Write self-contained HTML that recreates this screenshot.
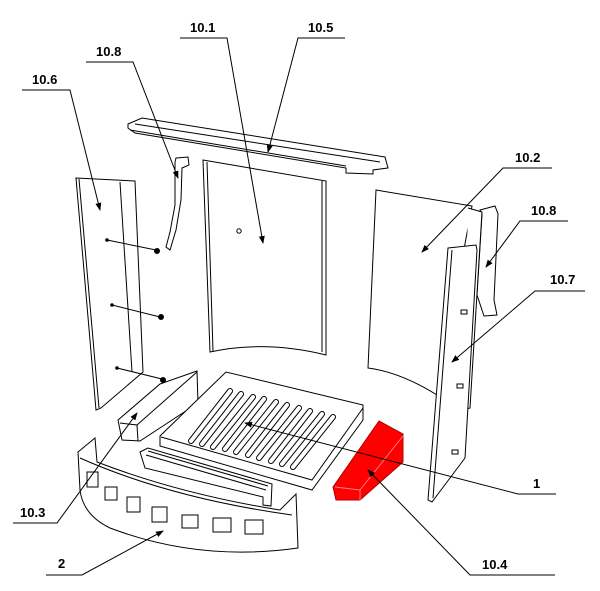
<!DOCTYPE html>
<html><head><meta charset="utf-8"><style>
html,body{margin:0;padding:0;background:#fff;}
svg{display:block}
text{font-family:"Liberation Sans",sans-serif;font-weight:bold;font-size:13px;fill:#000}
</style></head><body>
<svg width="600" height="591" viewBox="0 0 600 591" xmlns="http://www.w3.org/2000/svg">
<defs><marker id="a" markerWidth="8" markerHeight="8" refX="7" refY="3" orient="auto" markerUnits="userSpaceOnUse"><path d="M0,0 L8,3 L0,6 Z" fill="#000"/></marker></defs>
<g fill="none" stroke="#000" stroke-width="1">
<!-- top beam 10.5 -->
<path d="M128,124 L142,118 L385,157 L388,168 L373,170 L373,174 L346,173 L346,168 L135,133 L128,128 Z" fill="#fff"/>
<path d="M135,124 L380,162"/>
<path d="M130,130 L346,166"/>
<!-- panel 10.1 -->
<path d="M203,160 L326,181 L326,355 Q265,340 210,352 Z" fill="#fff"/>
<path d="M207,162 L213,351"/>
<path d="M322,181 L322,352"/>
<circle cx="239" cy="231" r="2.2"/>
<!-- bracket 10.8 left -->
<path d="M176,158 L188,157 L189,165 L182,168 L181,200 L176,230 L170,250 L166,247 L170,232 L175,205 L175,162 Z" fill="#fff"/>
<!-- panel 10.6 -->
<path d="M76,178 L135,181 L143,372 L101,408 L96,410 Z" fill="#fff"/>
<path d="M120,182 L132,372"/>
<path d="M79,179 L99,408"/>
<path d="M107,240 L156,250"/><circle cx="157" cy="251" r="2.5" fill="#000"/><circle cx="107" cy="240" r="1.3" fill="#000"/>
<path d="M112,305 L160,317"/><circle cx="161" cy="317" r="2.5" fill="#000"/><circle cx="112" cy="305" r="1.3" fill="#000"/>
<path d="M117,368 L162,379"/><circle cx="163" cy="380" r="2.5" fill="#000"/><circle cx="117" cy="368" r="1.3" fill="#000"/>
<!-- brick 10.3 -->
<path d="M118,420 L160,384 L197,371 L198,403 L140,441 L122,440 Z" fill="#fff"/>
<path d="M120,423 L137,425 L138,441"/>
<path d="M137,425 L197,372"/>
<!-- grate -->
<path d="M160,436 L226,372 L363,405 L363,420 L312,490 L160,446 Z" fill="#fff"/>
<path d="M161,437 L312,480 L363,408"/>
<g stroke-linecap="round">
<g stroke-width="6">
<path d="M191,441 L230,391"/><path d="M202,444 L241,394"/><path d="M213,447 L253,397"/><path d="M225,449 L264,399"/><path d="M236,452 L276,402"/><path d="M248,455 L287,405"/><path d="M259,458 L299,408"/><path d="M271,461 L310,411"/><path d="M282,464 L322,414"/><path d="M293,467 L333,417"/>
</g>
<g stroke-width="4" stroke="#fff">
<path d="M191,441 L230,391"/><path d="M202,444 L241,394"/><path d="M213,447 L253,397"/><path d="M225,449 L264,399"/><path d="M236,452 L276,402"/><path d="M248,455 L287,405"/><path d="M259,458 L299,408"/><path d="M271,461 L310,411"/><path d="M282,464 L322,414"/><path d="M293,467 L333,417"/>
</g></g>
<!-- fire bar -->
<path d="M140,452 L148,448 L272,484 L271,506 L263,505 L263,497 L145,468 Z" fill="#fff"/>
<path d="M148,451 L268,486"/><path d="M146,455 L266,490"/>
<!-- front 2 -->
<path d="M78,452 L95,438 L97,462 Q180,494 280,510 L296,494 L298,548 Q200,562 110,528 Q83,515 80,490 Z" fill="#fff"/>
<path d="M80,458 Q170,498 292,515"/>
<rect x="87" y="472" width="11" height="15"/>
<rect x="105" y="487" width="12" height="13"/>
<rect x="127" y="497" width="13" height="15"/>
<rect x="152" y="507" width="15" height="15"/>
<rect x="182" y="515" width="16" height="13"/>
<rect x="213" y="518" width="18" height="14"/>
<rect x="245" y="520" width="18" height="14"/>
<!-- panel 10.2 -->
<path d="M376,190 L472,206 L437,395 Q400,372 368,368 Z" fill="#fff"/>
<!-- bracket 10.8 right -->
<path d="M480,210 L495,206 L498,214 L494,300 L497,315 L484,316 L477,295 L482,214 Z" fill="#fff"/>
<!-- panel 10.7 -->
<path d="M468,208 L482,212 L470,408 L463,410" fill="#fff"/>
<path d="M448,248 L476,245 L477,250 L465,458 L432,502 L428,500 Z" fill="#fff"/>
<path d="M452,250 L433,498"/>
<rect x="461" y="310" width="6" height="4"/><rect x="457" y="384" width="6" height="4"/><rect x="452" y="450" width="6" height="4"/>
<!-- red 10.4 -->
<path d="M333,487 L379,421 L403,434 L403,462 L360,500 L336,500 Z" fill="#ff0000" stroke="#b00000"/>
<path d="M335,487 L360,490 L403,436 M360,490 L360,500" stroke="#ff8080"/>
<!-- leaders -->
<path d="M180,38 L227,38 L263,243" marker-end="url(#a)"/>
<path d="M345,38 L298,38 L268,152" marker-end="url(#a)"/>
<path d="M86,62 L133,62 L178,178" marker-end="url(#a)"/>
<path d="M22,90 L70,90 L100,210" marker-end="url(#a)"/>
<path d="M552,168 L503,168 L422,252" marker-end="url(#a)"/>
<path d="M568,221 L520,221 L486,267" marker-end="url(#a)"/>
<path d="M585,291 L535,291 L452,362" marker-end="url(#a)"/>
<path d="M556,494 L518,494 L245,423" marker-end="url(#a)"/>
<path d="M555,575 L470,575 L368,470" marker-end="url(#a)"/>
<path d="M13,523 L57,523 L137,413" marker-end="url(#a)"/>
<path d="M46,575 L82,575 L163,531" marker-end="url(#a)"/>
</g>
<text x="190" y="32">10.1</text>
<text x="308" y="32">10.5</text>
<text x="96" y="56">10.8</text>
<text x="32" y="84">10.6</text>
<text x="515" y="162">10.2</text>
<text x="531" y="215">10.8</text>
<text x="550" y="284">10.7</text>
<text x="533" y="488">1</text>
<text x="20" y="517">10.3</text>
<text x="58" y="568">2</text>
<text x="482" y="569">10.4</text>
</svg>
</body></html>
